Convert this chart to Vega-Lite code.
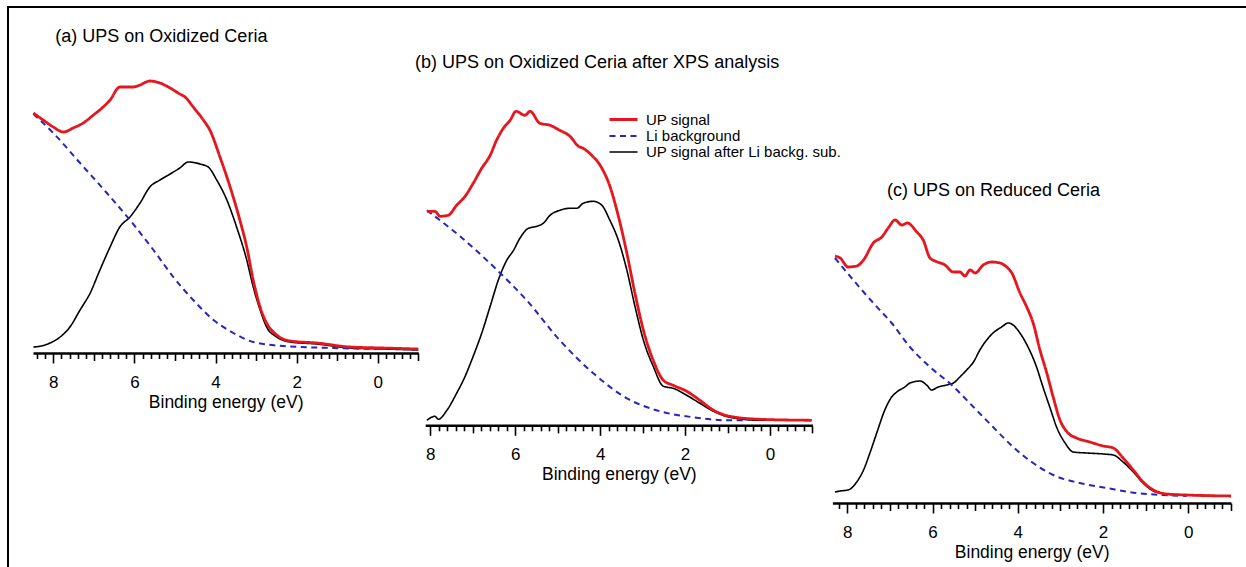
{
"$schema": "https://vega.github.io/schema/vega-lite/v6.json",
"width": 1238, "height": 560,
"autosize": "none",
"padding": {"left": 8, "top": 7, "right": 0, "bottom": 0},
"background": "white",
"config": {
  "font": "Liberation Sans",
  "view": {"stroke": "#000000", "strokeWidth": 2, "strokeDash": [1238, 1798, 560]},
  "axis": {"domainColor": "#000000", "domainWidth": 2.6, "tickColor": "#000000", "tickWidth": 1.6, "tickCount": 200,
    "labelFont": "Liberation Sans", "labelFontSize": 17, "labelColor": "#000000", "labelPadding": 11,
    "titleFont": "Liberation Sans", "titleFontSize": 17.5, "titleFontWeight": "normal", "titleColor": "#000000", "titlePadding": 3,
    "grid": false, "labelOverlap": false, "labelFlush": false, "labelBound": false},
  "text": {"font": "Liberation Sans", "fontSize": 18, "align": "left", "baseline": "alphabetic", "color": "#000000"},
  "line": {"interpolate": "monotone", "strokeJoin": "round"}
},
"datasets": {
 "a": [
{"E":8.49,"I":0.06,"s":"UP signal after Li backg. sub."},{"E":8.3,"I":0.07,"s":"UP signal after Li backg. sub."},{"E":8.08,"I":0.10,"s":"UP signal after Li backg. sub."},{"E":7.83,"I":0.16,"s":"UP signal after Li backg. sub."},{"E":7.59,"I":0.26,"s":"UP signal after Li backg. sub."},{"E":7.34,"I":0.43,"s":"UP signal after Li backg. sub."},{"E":7.09,"I":0.60,"s":"UP signal after Li backg. sub."},{"E":6.85,"I":0.83,"s":"UP signal after Li backg. sub."},{"E":6.6,"I":1.06,"s":"UP signal after Li backg. sub."},{"E":6.36,"I":1.26,"s":"UP signal after Li backg. sub."},{"E":6.11,"I":1.36,"s":"UP signal after Li backg. sub."},{"E":5.86,"I":1.50,"s":"UP signal after Li backg. sub."},{"E":5.62,"I":1.66,"s":"UP signal after Li backg. sub."},{"E":5.37,"I":1.73,"s":"UP signal after Li backg. sub."},{"E":5.12,"I":1.79,"s":"UP signal after Li backg. sub."},{"E":4.88,"I":1.85,"s":"UP signal after Li backg. sub."},{"E":4.67,"I":1.91,"s":"UP signal after Li backg. sub."},{"E":4.38,"I":1.89,"s":"UP signal after Li backg. sub."},{"E":4.18,"I":1.86,"s":"UP signal after Li backg. sub."},{"E":3.97,"I":1.73,"s":"UP signal after Li backg. sub."},{"E":3.72,"I":1.53,"s":"UP signal after Li backg. sub."},{"E":3.48,"I":1.26,"s":"UP signal after Li backg. sub."},{"E":3.23,"I":0.93,"s":"UP signal after Li backg. sub."},{"E":3.07,"I":0.66,"s":"UP signal after Li backg. sub."},{"E":2.9,"I":0.43,"s":"UP signal after Li backg. sub."},{"E":2.74,"I":0.26,"s":"UP signal after Li backg. sub."},{"E":2.49,"I":0.16,"s":"UP signal after Li backg. sub."},{"E":2.16,"I":0.11,"s":"UP signal after Li backg. sub."},{"E":1.5,"I":0.09,"s":"UP signal after Li backg. sub."},{"E":0.68,"I":0.05,"s":"UP signal after Li backg. sub."},{"E":-0.14,"I":0.04,"s":"UP signal after Li backg. sub."},{"E":-1,"I":0.03,"s":"UP signal after Li backg. sub."},
{"E":8.49,"I":2.39,"s":"Li background"},{"E":8.0,"I":2.20,"s":"Li background"},{"E":7.34,"I":1.90,"s":"Li background"},{"E":6.68,"I":1.60,"s":"Li background"},{"E":6.07,"I":1.31,"s":"Li background"},{"E":5.53,"I":1.03,"s":"Li background"},{"E":5.04,"I":0.76,"s":"Li background"},{"E":4.55,"I":0.53,"s":"Li background"},{"E":4.05,"I":0.33,"s":"Li background"},{"E":3.56,"I":0.20,"s":"Li background"},{"E":3.07,"I":0.11,"s":"Li background"},{"E":2.33,"I":0.07,"s":"Li background"},{"E":1.09,"I":0.05,"s":"Li background"},{"E":0.02,"I":0.04,"s":"Li background"},
{"E":8.49,"I":2.40,"s":"UP signal"},{"E":8.25,"I":2.33,"s":"UP signal"},{"E":8.0,"I":2.26,"s":"UP signal"},{"E":7.75,"I":2.21,"s":"UP signal"},{"E":7.51,"I":2.25,"s":"UP signal"},{"E":7.26,"I":2.30,"s":"UP signal"},{"E":7.01,"I":2.38,"s":"UP signal"},{"E":6.77,"I":2.46,"s":"UP signal"},{"E":6.6,"I":2.53,"s":"UP signal"},{"E":6.36,"I":2.66,"s":"UP signal"},{"E":6.03,"I":2.66,"s":"UP signal"},{"E":5.86,"I":2.68,"s":"UP signal"},{"E":5.62,"I":2.72,"s":"UP signal"},{"E":5.37,"I":2.70,"s":"UP signal"},{"E":5.12,"I":2.65,"s":"UP signal"},{"E":4.88,"I":2.59,"s":"UP signal"},{"E":4.75,"I":2.56,"s":"UP signal"},{"E":4.55,"I":2.46,"s":"UP signal"},{"E":4.3,"I":2.33,"s":"UP signal"},{"E":4.14,"I":2.23,"s":"UP signal"},{"E":3.89,"I":1.96,"s":"UP signal"},{"E":3.64,"I":1.66,"s":"UP signal"},{"E":3.4,"I":1.33,"s":"UP signal"},{"E":3.23,"I":1.06,"s":"UP signal"},{"E":3.07,"I":0.73,"s":"UP signal"},{"E":2.9,"I":0.46,"s":"UP signal"},{"E":2.74,"I":0.30,"s":"UP signal"},{"E":2.49,"I":0.18,"s":"UP signal"},{"E":2.16,"I":0.12,"s":"UP signal"},{"E":1.5,"I":0.10,"s":"UP signal"},{"E":0.68,"I":0.06,"s":"UP signal"},{"E":-0.14,"I":0.05,"s":"UP signal"},{"E":-1,"I":0.04,"s":"UP signal"}
 ],
 "b": [
{"E":8.08,"I":0.05,"s":"UP signal after Li backg. sub."},{"E":7.89,"I":0.09,"s":"UP signal after Li backg. sub."},{"E":7.81,"I":0.06,"s":"UP signal after Li backg. sub."},{"E":7.61,"I":0.15,"s":"UP signal after Li backg. sub."},{"E":7.38,"I":0.32,"s":"UP signal after Li backg. sub."},{"E":7.18,"I":0.49,"s":"UP signal after Li backg. sub."},{"E":6.99,"I":0.69,"s":"UP signal after Li backg. sub."},{"E":6.79,"I":0.92,"s":"UP signal after Li backg. sub."},{"E":6.59,"I":1.19,"s":"UP signal after Li backg. sub."},{"E":6.4,"I":1.45,"s":"UP signal after Li backg. sub."},{"E":6.2,"I":1.65,"s":"UP signal after Li backg. sub."},{"E":6.04,"I":1.75,"s":"UP signal after Li backg. sub."},{"E":5.89,"I":1.87,"s":"UP signal after Li backg. sub."},{"E":5.69,"I":1.97,"s":"UP signal after Li backg. sub."},{"E":5.49,"I":1.99,"s":"UP signal after Li backg. sub."},{"E":5.34,"I":2.02,"s":"UP signal after Li backg. sub."},{"E":5.18,"I":2.10,"s":"UP signal after Li backg. sub."},{"E":4.95,"I":2.15,"s":"UP signal after Li backg. sub."},{"E":4.71,"I":2.17,"s":"UP signal after Li backg. sub."},{"E":4.55,"I":2.17,"s":"UP signal after Li backg. sub."},{"E":4.4,"I":2.22,"s":"UP signal after Li backg. sub."},{"E":4.16,"I":2.24,"s":"UP signal after Li backg. sub."},{"E":3.96,"I":2.20,"s":"UP signal after Li backg. sub."},{"E":3.77,"I":2.05,"s":"UP signal after Li backg. sub."},{"E":3.57,"I":1.85,"s":"UP signal after Li backg. sub."},{"E":3.37,"I":1.55,"s":"UP signal after Li backg. sub."},{"E":3.18,"I":1.19,"s":"UP signal after Li backg. sub."},{"E":2.98,"I":0.85,"s":"UP signal after Li backg. sub."},{"E":2.75,"I":0.59,"s":"UP signal after Li backg. sub."},{"E":2.51,"I":0.39,"s":"UP signal after Li backg. sub."},{"E":2.28,"I":0.37,"s":"UP signal after Li backg. sub."},{"E":1.96,"I":0.30,"s":"UP signal after Li backg. sub."},{"E":1.65,"I":0.22,"s":"UP signal after Li backg. sub."},{"E":1.33,"I":0.14,"s":"UP signal after Li backg. sub."},{"E":0.94,"I":0.08,"s":"UP signal after Li backg. sub."},{"E":0.23,"I":0.05,"s":"UP signal after Li backg. sub."},{"E":-0.98,"I":0.05,"s":"UP signal after Li backg. sub."},
{"E":8.08,"I":2.15,"s":"Li background"},{"E":7.3,"I":1.89,"s":"Li background"},{"E":6.52,"I":1.59,"s":"Li background"},{"E":5.73,"I":1.25,"s":"Li background"},{"E":4.95,"I":0.85,"s":"Li background"},{"E":4.16,"I":0.52,"s":"Li background"},{"E":3.37,"I":0.27,"s":"Li background"},{"E":2.59,"I":0.14,"s":"Li background"},{"E":1.8,"I":0.08,"s":"Li background"},{"E":1.02,"I":0.05,"s":"Li background"},{"E":0.63,"I":0.05,"s":"Li background"},
{"E":8.08,"I":2.14,"s":"UP signal"},{"E":7.89,"I":2.14,"s":"UP signal"},{"E":7.77,"I":2.09,"s":"UP signal"},{"E":7.58,"I":2.10,"s":"UP signal"},{"E":7.38,"I":2.20,"s":"UP signal"},{"E":7.18,"I":2.29,"s":"UP signal"},{"E":6.99,"I":2.42,"s":"UP signal"},{"E":6.79,"I":2.57,"s":"UP signal"},{"E":6.59,"I":2.70,"s":"UP signal"},{"E":6.44,"I":2.85,"s":"UP signal"},{"E":6.28,"I":2.97,"s":"UP signal"},{"E":6.12,"I":3.05,"s":"UP signal"},{"E":5.98,"I":3.14,"s":"UP signal"},{"E":5.77,"I":3.10,"s":"UP signal"},{"E":5.65,"I":3.14,"s":"UP signal"},{"E":5.42,"I":3.02,"s":"UP signal"},{"E":5.18,"I":3.00,"s":"UP signal"},{"E":4.95,"I":2.95,"s":"UP signal"},{"E":4.71,"I":2.89,"s":"UP signal"},{"E":4.51,"I":2.79,"s":"UP signal"},{"E":4.4,"I":2.77,"s":"UP signal"},{"E":4.2,"I":2.70,"s":"UP signal"},{"E":4.0,"I":2.60,"s":"UP signal"},{"E":3.77,"I":2.39,"s":"UP signal"},{"E":3.57,"I":2.09,"s":"UP signal"},{"E":3.37,"I":1.72,"s":"UP signal"},{"E":3.18,"I":1.32,"s":"UP signal"},{"E":2.98,"I":0.95,"s":"UP signal"},{"E":2.75,"I":0.65,"s":"UP signal"},{"E":2.51,"I":0.45,"s":"UP signal"},{"E":2.28,"I":0.40,"s":"UP signal"},{"E":1.96,"I":0.34,"s":"UP signal"},{"E":1.65,"I":0.25,"s":"UP signal"},{"E":1.33,"I":0.15,"s":"UP signal"},{"E":0.94,"I":0.09,"s":"UP signal"},{"E":0.23,"I":0.06,"s":"UP signal"},{"E":-0.98,"I":0.05,"s":"UP signal"}
 ],
 "c": [
{"E":8.29,"I":0.11,"s":"UP signal after Li backg. sub."},{"E":8.17,"I":0.12,"s":"UP signal after Li backg. sub."},{"E":7.98,"I":0.13,"s":"UP signal after Li backg. sub."},{"E":7.78,"I":0.21,"s":"UP signal after Li backg. sub."},{"E":7.62,"I":0.33,"s":"UP signal after Li backg. sub."},{"E":7.47,"I":0.50,"s":"UP signal after Li backg. sub."},{"E":7.31,"I":0.70,"s":"UP signal after Li backg. sub."},{"E":7.12,"I":0.93,"s":"UP signal after Li backg. sub."},{"E":6.96,"I":1.06,"s":"UP signal after Li backg. sub."},{"E":6.84,"I":1.11,"s":"UP signal after Li backg. sub."},{"E":6.65,"I":1.16,"s":"UP signal after Li backg. sub."},{"E":6.53,"I":1.20,"s":"UP signal after Li backg. sub."},{"E":6.29,"I":1.22,"s":"UP signal after Li backg. sub."},{"E":6.14,"I":1.18,"s":"UP signal after Li backg. sub."},{"E":6.02,"I":1.13,"s":"UP signal after Li backg. sub."},{"E":5.87,"I":1.16,"s":"UP signal after Li backg. sub."},{"E":5.67,"I":1.18,"s":"UP signal after Li backg. sub."},{"E":5.51,"I":1.20,"s":"UP signal after Li backg. sub."},{"E":5.36,"I":1.26,"s":"UP signal after Li backg. sub."},{"E":5.2,"I":1.33,"s":"UP signal after Li backg. sub."},{"E":5.04,"I":1.41,"s":"UP signal after Li backg. sub."},{"E":4.89,"I":1.53,"s":"UP signal after Li backg. sub."},{"E":4.73,"I":1.63,"s":"UP signal after Li backg. sub."},{"E":4.58,"I":1.70,"s":"UP signal after Li backg. sub."},{"E":4.38,"I":1.76,"s":"UP signal after Li backg. sub."},{"E":4.22,"I":1.80,"s":"UP signal after Li backg. sub."},{"E":4.11,"I":1.78,"s":"UP signal after Li backg. sub."},{"E":3.95,"I":1.70,"s":"UP signal after Li backg. sub."},{"E":3.76,"I":1.56,"s":"UP signal after Li backg. sub."},{"E":3.56,"I":1.36,"s":"UP signal after Li backg. sub."},{"E":3.41,"I":1.16,"s":"UP signal after Li backg. sub."},{"E":3.25,"I":0.96,"s":"UP signal after Li backg. sub."},{"E":3.09,"I":0.76,"s":"UP signal after Li backg. sub."},{"E":2.89,"I":0.60,"s":"UP signal after Li backg. sub."},{"E":2.7,"I":0.51,"s":"UP signal after Li backg. sub."},{"E":2.38,"I":0.50,"s":"UP signal after Li backg. sub."},{"E":1.99,"I":0.49,"s":"UP signal after Li backg. sub."},{"E":1.76,"I":0.48,"s":"UP signal after Li backg. sub."},{"E":1.53,"I":0.41,"s":"UP signal after Li backg. sub."},{"E":1.29,"I":0.31,"s":"UP signal after Li backg. sub."},{"E":1.06,"I":0.20,"s":"UP signal after Li backg. sub."},{"E":0.82,"I":0.12,"s":"UP signal after Li backg. sub."},{"E":0.51,"I":0.09,"s":"UP signal after Li backg. sub."},{"E":0.04,"I":0.08,"s":"UP signal after Li backg. sub."},{"E":-1,"I":0.07,"s":"UP signal after Li backg. sub."},
{"E":8.29,"I":2.45,"s":"Li background"},{"E":7.86,"I":2.23,"s":"Li background"},{"E":7.39,"I":2.00,"s":"Li background"},{"E":6.96,"I":1.80,"s":"Li background"},{"E":6.53,"I":1.56,"s":"Li background"},{"E":6.06,"I":1.36,"s":"Li background"},{"E":5.55,"I":1.18,"s":"Li background"},{"E":5.04,"I":0.96,"s":"Li background"},{"E":4.58,"I":0.76,"s":"Li background"},{"E":4.11,"I":0.56,"s":"Li background"},{"E":3.64,"I":0.40,"s":"Li background"},{"E":3.17,"I":0.28,"s":"Li background"},{"E":2.55,"I":0.20,"s":"Li background"},{"E":1.92,"I":0.15,"s":"Li background"},{"E":1.21,"I":0.10,"s":"Li background"},{"E":0.59,"I":0.08,"s":"Li background"},{"E":0.04,"I":0.07,"s":"Li background"},
{"E":8.29,"I":2.47,"s":"UP signal"},{"E":8.17,"I":2.45,"s":"UP signal"},{"E":7.98,"I":2.36,"s":"UP signal"},{"E":7.78,"I":2.37,"s":"UP signal"},{"E":7.62,"I":2.43,"s":"UP signal"},{"E":7.39,"I":2.60,"s":"UP signal"},{"E":7.19,"I":2.66,"s":"UP signal"},{"E":7.04,"I":2.75,"s":"UP signal"},{"E":6.88,"I":2.83,"s":"UP signal"},{"E":6.72,"I":2.78,"s":"UP signal"},{"E":6.59,"I":2.80,"s":"UP signal"},{"E":6.37,"I":2.71,"s":"UP signal"},{"E":6.22,"I":2.63,"s":"UP signal"},{"E":6.06,"I":2.45,"s":"UP signal"},{"E":5.94,"I":2.42,"s":"UP signal"},{"E":5.71,"I":2.38,"s":"UP signal"},{"E":5.51,"I":2.31,"s":"UP signal"},{"E":5.36,"I":2.31,"s":"UP signal"},{"E":5.24,"I":2.27,"s":"UP signal"},{"E":5.12,"I":2.33,"s":"UP signal"},{"E":5.0,"I":2.30,"s":"UP signal"},{"E":4.81,"I":2.38,"s":"UP signal"},{"E":4.61,"I":2.41,"s":"UP signal"},{"E":4.42,"I":2.40,"s":"UP signal"},{"E":4.26,"I":2.36,"s":"UP signal"},{"E":4.14,"I":2.30,"s":"UP signal"},{"E":3.95,"I":2.10,"s":"UP signal"},{"E":3.79,"I":1.96,"s":"UP signal"},{"E":3.64,"I":1.80,"s":"UP signal"},{"E":3.48,"I":1.53,"s":"UP signal"},{"E":3.32,"I":1.30,"s":"UP signal"},{"E":3.17,"I":1.06,"s":"UP signal"},{"E":3.01,"I":0.83,"s":"UP signal"},{"E":2.82,"I":0.70,"s":"UP signal"},{"E":2.62,"I":0.65,"s":"UP signal"},{"E":2.31,"I":0.61,"s":"UP signal"},{"E":1.99,"I":0.57,"s":"UP signal"},{"E":1.76,"I":0.55,"s":"UP signal"},{"E":1.53,"I":0.45,"s":"UP signal"},{"E":1.29,"I":0.33,"s":"UP signal"},{"E":1.06,"I":0.21,"s":"UP signal"},{"E":0.82,"I":0.13,"s":"UP signal"},{"E":0.51,"I":0.09,"s":"UP signal"},{"E":0.04,"I":0.08,"s":"UP signal"},{"E":-1,"I":0.07,"s":"UP signal"}
 ]
},
"layer": [
 {
  "data": {"name": "a"},
  "layer": [
   {
    "mark": {"type": "line"},
    "encoding": {
     "x": {"field": "E", "type": "quantitative",
       "scale": {"domain": [8.5, -1], "range": [25, 410.3], "nice": false, "zero": false},
       "axis": {"orient": "bottom", "offset": -214, "title": "Binding energy (eV)", "tickCount": 200,
         "values": [8.4,8.2,8,7.8,7.6,7.4,7.2,7,6.8,6.6,6.4,6.2,6,5.8,5.6,5.4,5.2,5,4.8,4.6,4.4,4.2,4,3.8,3.6,3.4,3.2,3,2.8,2.6,2.4,2.2,2,1.8,1.6,1.4,1.2,1,0.8,0.6,0.4,0.2,0,-0.2,-0.4,-0.6,-0.8,-1],
         "tickSize": {"condition": [{"test": "abs(datum.value/2 - round(datum.value/2)) < 0.01", "value": 10}, {"test": "abs(datum.value - round(datum.value)) < 0.01", "value": 7.5}], "value": 5.5},
         "labelExpr": "abs(datum.value/2 - round(datum.value/2)) < 0.01 ? format(datum.value, '.0f') : ''"}},
     "y": {"field": "I", "type": "quantitative", "scale": {"domain": [0, 3], "range": [346, 46], "nice": false, "zero": false}, "axis": null},
     "color": {"field": "s", "type": "nominal",
       "scale": {"domain": ["UP signal", "Li background", "UP signal after Li backg. sub."], "range": ["#e5161d", "#2626b8", "#000000"]},
       "legend": {"title": null, "orient": "none", "legendX": 607, "legendY": 104, "direction": "vertical", "padding": 0, "rowPadding": 0, "labelLimit": 0,
         "labelFont": "Liberation Sans", "labelFontSize": 15, "labelColor": "#000000", "labelOffset": 14, "symbolSize": 196, "symbolType": "M-2,0H2"}},
     "strokeDash": {"field": "s", "type": "nominal",
       "scale": {"domain": ["UP signal", "Li background", "UP signal after Li backg. sub."], "range": [[1, 0], [6, 4.5], [1, 0]]}},
     "strokeWidth": {"field": "s", "type": "nominal",
       "scale": {"type": "ordinal", "domain": ["UP signal", "Li background", "UP signal after Li backg. sub."], "range": [2.8, 2, 1.6]}}
    }
   },
   {
    "data": {"values": [{"t": "(a) UPS on Oxidized Ceria"}]},
    "mark": {"type": "text"},
    "encoding": {
     "x": {"datum": 7.95, "type": "quantitative"},
     "y": {"datum": 3.113, "type": "quantitative"},
     "text": {"field": "t"}
    }
   }
  ]
 },
 {
  "data": {"name": "b"},
  "layer": [
   {
    "mark": {"type": "line"},
    "encoding": {
     "x": {"field": "E", "type": "quantitative",
       "scale": {"domain": [8.12, -1], "range": [417.2, 804.45], "nice": false, "zero": false},
       "axis": {"orient": "bottom", "offset": -141.7, "title": "Binding energy (eV)", "tickCount": 200,
         "values": [8,7.8,7.6,7.4,7.2,7,6.8,6.6,6.4,6.2,6,5.8,5.6,5.4,5.2,5,4.8,4.6,4.4,4.2,4,3.8,3.6,3.4,3.2,3,2.8,2.6,2.4,2.2,2,1.8,1.6,1.4,1.2,1,0.8,0.6,0.4,0.2,0,-0.2,-0.4,-0.6,-0.8,-1],
         "tickSize": {"condition": [{"test": "abs(datum.value/2 - round(datum.value/2)) < 0.01", "value": 10}, {"test": "abs(datum.value - round(datum.value)) < 0.01", "value": 7.5}], "value": 5.5},
         "labelExpr": "abs(datum.value/2 - round(datum.value/2)) < 0.01 ? format(datum.value, '.0f') : ''"}},
     "y": {"field": "I", "type": "quantitative", "scale": {"domain": [0, 4], "range": [418.3, 18.3], "nice": false, "zero": false}, "axis": null},
     "color": {"field": "s", "type": "nominal"},
     "strokeDash": {"field": "s", "type": "nominal"},
     "strokeWidth": {"field": "s", "type": "nominal", "scale": {"type": "ordinal"}}
    }
   },
   {
    "data": {"values": [{"t": "(b) UPS on Oxidized Ceria after XPS analysis"}]},
    "mark": {"type": "text"},
    "encoding": {
     "x": {"datum": 8.36, "type": "quantitative"},
     "y": {"datum": 3.57, "type": "quantitative"},
     "text": {"field": "t"}
    }
   }
  ]
 },
 {
  "data": {"name": "c"},
  "layer": [
   {
    "mark": {"type": "line"},
    "encoding": {
     "x": {"field": "E", "type": "quantitative",
       "scale": {"domain": [8.35, -1], "range": [824.4, 1222.9], "nice": false, "zero": false},
       "axis": {"orient": "bottom", "offset": -64, "title": "Binding energy (eV)", "tickCount": 200,
         "values": [8.2,8,7.8,7.6,7.4,7.2,7,6.8,6.6,6.4,6.2,6,5.8,5.6,5.4,5.2,5,4.8,4.6,4.4,4.2,4,3.8,3.6,3.4,3.2,3,2.8,2.6,2.4,2.2,2,1.8,1.6,1.4,1.2,1,0.8,0.6,0.4,0.2,0,-0.2,-0.4,-0.6,-0.8,-1],
         "tickSize": {"condition": [{"test": "abs(datum.value/2 - round(datum.value/2)) < 0.01", "value": 10}, {"test": "abs(datum.value - round(datum.value)) < 0.01", "value": 7.5}], "value": 5.5},
         "labelExpr": "abs(datum.value/2 - round(datum.value/2)) < 0.01 ? format(datum.value, '.0f') : ''"}},
     "y": {"field": "I", "type": "quantitative", "scale": {"domain": [0, 4], "range": [496, 96], "nice": false, "zero": false}, "axis": null},
     "color": {"field": "s", "type": "nominal"},
     "strokeDash": {"field": "s", "type": "nominal"},
     "strokeWidth": {"field": "s", "type": "nominal", "scale": {"type": "ordinal"}}
    }
   },
   {
    "data": {"values": [{"t": "(c) UPS on Reduced Ceria"}]},
    "mark": {"type": "text"},
    "encoding": {
     "x": {"datum": 7.07, "type": "quantitative"},
     "y": {"datum": 3.07, "type": "quantitative"},
     "text": {"field": "t"}
    }
   }
  ]
 }
],
"resolve": {"scale": {"x": "independent", "y": "independent"}, "axis": {"x": "independent", "y": "independent"}}
}
